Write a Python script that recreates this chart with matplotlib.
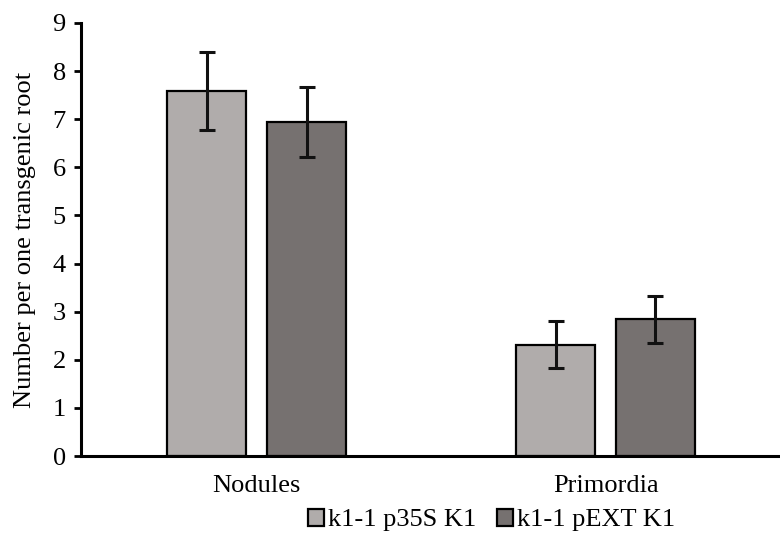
import matplotlib
matplotlib.use("Agg")
import matplotlib.pyplot as plt
import numpy as np
from matplotlib.patches import Patch

categories = ["Nodules", "Primordia"]
series_names = ["k1-1 p35S K1", "k1-1 pEXT K1"]
p35s_vals = [7.59, 2.31]
p35s_err = [0.81, 0.49]
pext_vals = [6.94, 2.84]
pext_err = [0.72, 0.49]
colors = ["#b0acab", "#767170"]

plt.rcParams['font.family'] = ['Liberation Serif', 'DejaVu Serif']
fs = 19

fig = plt.figure(figsize=(7.8, 5.34), dpi=100)
ax = fig.add_axes([0.104, 0.146, 0.896, 0.811])

x = np.arange(len(categories))
w = 0.226
off = 0.143
ekw = dict(elinewidth=2.2, capthick=2.2, ecolor="#111111")
ax.bar(x - off, p35s_vals, w, yerr=p35s_err, color=colors[0], edgecolor="black",
       linewidth=1.6, capsize=6, error_kw=ekw, zorder=2)
ax.bar(x + off, pext_vals, w, yerr=pext_err, color=colors[1], edgecolor="black",
       linewidth=1.6, capsize=6, error_kw=ekw, zorder=2)

ax.set_xlim(-0.503, 1.5)
ax.set_ylim(0, 9)
ax.set_yticks(range(0, 10))
ax.set_xticks(x)
ax.set_xticklabels(categories, fontsize=fs)
ax.tick_params(axis='x', length=0, pad=14)
ax.tick_params(axis='y', labelsize=fs, length=5, width=2, direction='out', pad=6)
ax.set_ylabel("Number per one transgenic root", fontsize=fs, labelpad=12)

for s in ["top", "right"]:
    ax.spines[s].set_visible(False)
for s in ["left", "bottom"]:
    ax.spines[s].set_linewidth(2.2)
ax.spines["left"].set_zorder(3)
ax.spines["bottom"].set_zorder(3)

handles = [Patch(facecolor=c, edgecolor="black", linewidth=1.6) for c in colors]
fig.legend(handles, series_names, loc="center", bbox_to_anchor=(0.63, 0.026),
           ncol=2, frameon=False, fontsize=fs, handlelength=0.6, handleheight=0.6,
           handletextpad=0.15, columnspacing=0.8, borderpad=0)

plt.savefig("out.png", dpi=100)
